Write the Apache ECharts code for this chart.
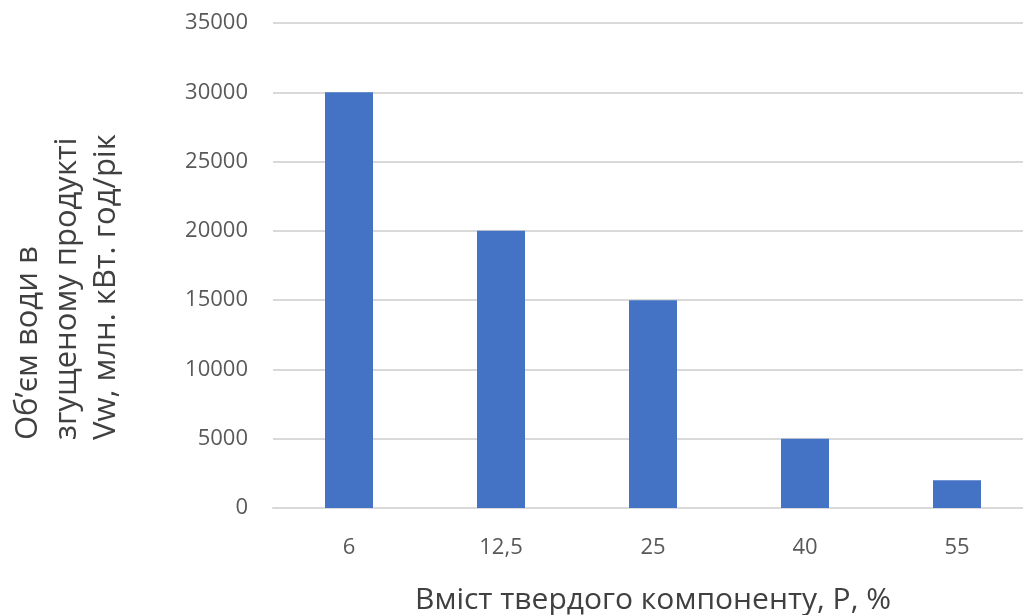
<!DOCTYPE html>
<html>
<head>
<meta charset="utf-8">
<script src="https://cdn.jsdelivr.net/npm/echarts@6/dist/echarts.min.js"></script>
<style>
  html, body { margin: 0; padding: 0; background: #ffffff; overflow: hidden; }
  #chart { width: 1023px; height: 615px; }
</style>
</head>
<body>
<div id="chart"></div>
<script>
// Solid-phase content, P (%)
const categories = ['6', '12,5', '25', '40', '55'];
// Water volume in the thickened product, Vw
const waterVolume = [30000, 20000, 15000, 5000, 2000];
// Value axis range
const yMin = 0;
const yMax = 35000;
const yStep = 5000;

const xTitle = 'Вміст твердого компоненту, P, %';
const yTitleLines = ['Об\u2019єм води в', 'згущеному продукті', 'Vw, млн. кВт. год/рік'];

const FONT = '"Open Sans", "Noto Sans", sans-serif';

const chart = echarts.init(document.getElementById('chart'), null, { renderer: 'canvas' });

chart.setOption({
  animation: false,
  backgroundColor: '#ffffff',
  grid: {
    left: 273, top: 23, width: 760, height: 485,
    containLabel: false,
    outerBoundsMode: 'none'
  },
  xAxis: {
    type: 'category',
    data: categories,
    axisTick: { show: false },
    axisLine: { show: true, lineStyle: { color: '#d9d9d9', width: 2 } },
    axisLabel: { color: '#595959', fontFamily: FONT, fontSize: 22, margin: 29 },
    name: xTitle,
    nameLocation: 'middle',
    nameGap: 77,
    nameTextStyle: { color: '#404040', fontFamily: FONT, fontSize: 30 }
  },
  yAxis: {
    type: 'value',
    min: yMin,
    max: yMax,
    interval: yStep,
    axisLine: { show: false },
    axisTick: { show: false },
    splitLine: { show: true, lineStyle: { color: '#d9d9d9', width: 2 } },
    axisLabel: {
      color: '#595959', fontFamily: FONT, fontSize: 22, margin: 25,
      formatter: (v) => String(v)
    }
  },
  graphic: [{
    type: 'text',
    x: 67,
    y: 440,
    rotation: Math.PI / 2,
    style: {
      text: yTitleLines.join('\n'),
      font: '31px ' + FONT,
      fill: '#404040',
      align: 'left',
      verticalAlign: 'middle',
      lineHeight: 39
    }
  }],
  series: [{
    type: 'bar',
    data: waterVolume,
    barWidth: 48,
    itemStyle: { color: '#4472c4' }
  }]
});
</script>
</body>
</html>
